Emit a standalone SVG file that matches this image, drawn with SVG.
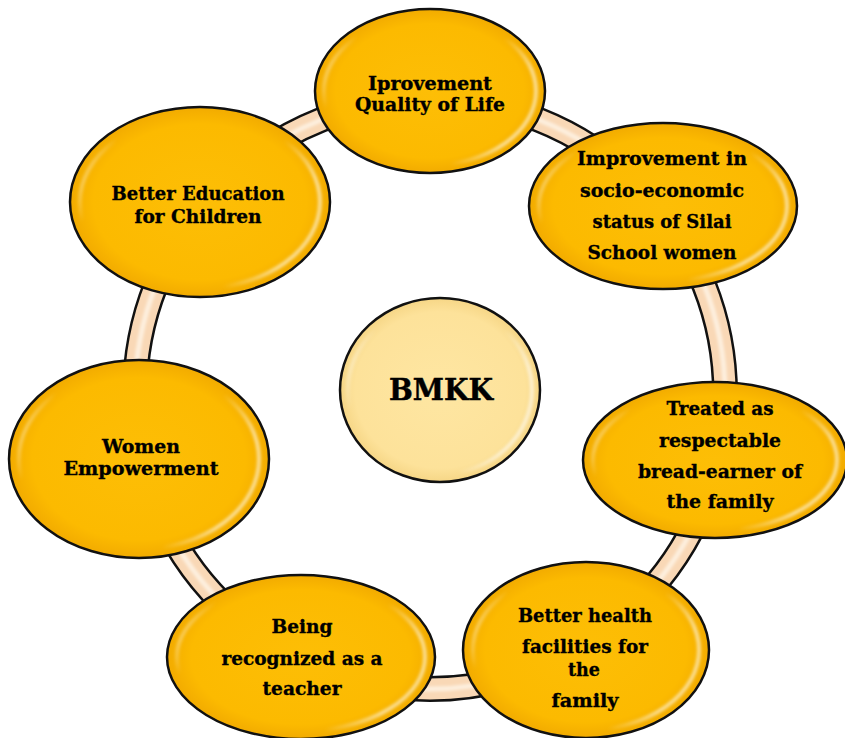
<svg xmlns="http://www.w3.org/2000/svg" width="845" height="738" viewBox="0 0 845 738">
<style>
.node{fill:url(#gold);stroke:#111;stroke-width:2.5}
.hub{fill:url(#cream);stroke:#111;stroke-width:2.5}
.hl{fill:none;stroke:url(#shine);stroke-width:4;filter:url(#soft)}
text{font-family:"DejaVu Serif","Liberation Serif",serif;font-weight:bold;font-size:19px;fill:#000;stroke:#000;stroke-width:0.35;text-anchor:middle}
.big{font-size:29px;stroke-width:0.5}
</style>
<defs>
<radialGradient id="gold" cx="0.5" cy="0.5" r="0.5">
<stop offset="0" stop-color="#fdbe06"/>
<stop offset="0.82" stop-color="#fcba00"/>
<stop offset="1" stop-color="#f2ab00"/>
</radialGradient>
<radialGradient id="cream" cx="0.5" cy="0.5" r="0.5">
<stop offset="0" stop-color="#fee6a2"/>
<stop offset="0.85" stop-color="#fde29a"/>
<stop offset="1" stop-color="#f6d686"/>
</radialGradient>
<linearGradient id="shine" x1="0" y1="0" x2="1" y2="0.3">
<stop offset="0" stop-color="#fff" stop-opacity="0.9"/>
<stop offset="0.18" stop-color="#fff" stop-opacity="0"/>
<stop offset="0.82" stop-color="#fff" stop-opacity="0"/>
<stop offset="1" stop-color="#fff" stop-opacity="0.55"/>
</linearGradient>
<filter id="soft" x="-10%" y="-10%" width="120%" height="120%"><feGaussianBlur stdDeviation="1.5"/></filter>
</defs>
<rect width="845" height="738" fill="#fff"/>
<g id="connectors">
<circle cx="430" cy="394" r="295" fill="none" stroke="#111" stroke-width="26"/>
<circle cx="430" cy="394" r="295" fill="none" stroke="#f9d8b6" stroke-width="21"/>
<circle cx="430" cy="394" r="295" fill="none" stroke="#fffaf0" stroke-opacity="0.7" stroke-width="5" filter="url(#soft)"/>
</g>
<g id="n1">
<ellipse class="node" cx="430" cy="91" rx="115" ry="82"/>
<ellipse class="hl" cx="430" cy="91" rx="106" ry="74"/>
<text x="430" y="90" textLength="124" lengthAdjust="spacingAndGlyphs">Iprovement</text>
<text x="430" y="111" textLength="150" lengthAdjust="spacingAndGlyphs">Quality of Life</text>
</g>
<g id="n2">
<ellipse class="node" cx="663" cy="206" rx="134" ry="83"/>
<ellipse class="hl" cx="663" cy="206" rx="124" ry="75"/>
<text x="662" y="165" textLength="170" lengthAdjust="spacingAndGlyphs">Improvement in</text>
<text x="662" y="197" textLength="164" lengthAdjust="spacingAndGlyphs">socio-economic</text>
<text x="662" y="228" textLength="139" lengthAdjust="spacingAndGlyphs">status of Silai</text>
<text x="662" y="259" textLength="149" lengthAdjust="spacingAndGlyphs">School women</text>
</g>
<g id="n3">
<ellipse class="node" cx="715" cy="460" rx="132" ry="78"/>
<ellipse class="hl" cx="715" cy="460" rx="122" ry="70"/>
<text x="720" y="415" textLength="107" lengthAdjust="spacingAndGlyphs">Treated as</text>
<text x="720" y="447" textLength="122" lengthAdjust="spacingAndGlyphs">respectable</text>
<text x="720" y="478" textLength="164" lengthAdjust="spacingAndGlyphs">bread-earner of</text>
<text x="720" y="508" textLength="107" lengthAdjust="spacingAndGlyphs">the family</text>
</g>
<g id="n4">
<ellipse class="node" cx="586" cy="650" rx="123" ry="88"/>
<ellipse class="hl" cx="586" cy="650" rx="113" ry="80"/>
<text x="585" y="622" textLength="134" lengthAdjust="spacingAndGlyphs">Better health</text>
<text x="585" y="653" textLength="126" lengthAdjust="spacingAndGlyphs">facilities for</text>
<text x="584" y="676" textLength="32" lengthAdjust="spacingAndGlyphs">the</text>
<text x="585" y="707" textLength="67" lengthAdjust="spacingAndGlyphs">family</text>
</g>
<g id="n5">
<ellipse class="node" cx="301" cy="657" rx="134" ry="82"/>
<ellipse class="hl" cx="301" cy="657" rx="124" ry="74"/>
<text x="302" y="633" textLength="61" lengthAdjust="spacingAndGlyphs">Being</text>
<text x="302" y="665" textLength="161" lengthAdjust="spacingAndGlyphs">recognized as a</text>
<text x="302" y="695" textLength="79" lengthAdjust="spacingAndGlyphs">teacher</text>
</g>
<g id="n6">
<ellipse class="node" cx="139" cy="459" rx="130" ry="99"/>
<ellipse class="hl" cx="139" cy="459" rx="120" ry="90"/>
<text x="141" y="453" textLength="78" lengthAdjust="spacingAndGlyphs">Women</text>
<text x="141" y="475" textLength="155" lengthAdjust="spacingAndGlyphs">Empowerment</text>
</g>
<g id="n7">
<ellipse class="node" cx="200" cy="202" rx="130" ry="95"/>
<ellipse class="hl" cx="200" cy="202" rx="120" ry="86"/>
<text x="198" y="200" textLength="173" lengthAdjust="spacingAndGlyphs">Better Education</text>
<text x="198" y="223" textLength="127" lengthAdjust="spacingAndGlyphs">for Children</text>
</g>
<g id="hub">
<ellipse class="hub" cx="440" cy="390" rx="100" ry="92"/>
<ellipse class="hl" cx="440" cy="390" rx="92" ry="84"/>
<text class="big" x="441" y="400" textLength="104" lengthAdjust="spacingAndGlyphs">BMKK</text>
</g>
</svg>
